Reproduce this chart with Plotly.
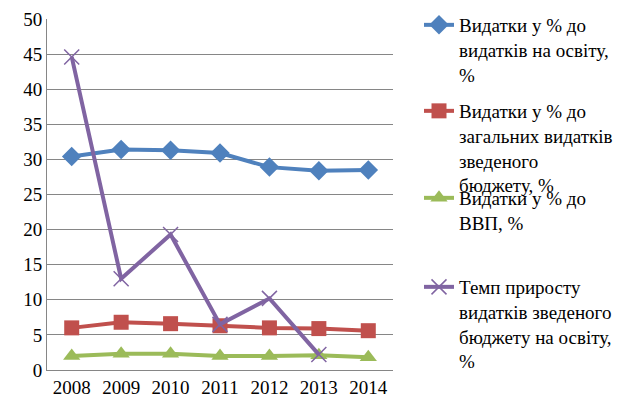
import plotly.graph_objects as go

years = ["2008", "2009", "2010", "2011", "2012", "2013", "2014"]
edu_share = [30.4, 31.4, 31.3, 30.9, 28.9, 28.4, 28.5]
budget_share = [6.0, 6.8, 6.6, 6.3, 6.0, 5.9, 5.6]
gdp_share = [2.0, 2.3, 2.3, 2.0, 2.0, 2.1, 1.8]
growth_rate = [44.6, 13.0, 19.3, 6.5, 10.2, 2.2, None]

names = [
    "Видатки у % до<br>видатків на освіту,<br>%",
    "Видатки у % до<br>загальних видатків<br>зведеного<br>бюджету, %",
    "Видатки у % до<br>ВВП, %",
    "Темп приросту<br>видатків зведеного<br>бюджету на освіту,<br>%",
]
colors = ["#4F81BD", "#C0504D", "#9BBB59", "#8064A2"]
symbols = ["diamond", "square", "triangle-up", "x-thin-open"]
sizes = [15, 15, 15, 15]
series = [edu_share, budget_share, gdp_share, growth_rate]
legend_ids = ["legend", "legend2", "legend3", "legend4"]
legend_tops = [6, 92, 179, 268]

FONT = "Times New Roman, DejaVu Serif"

fig = go.Figure()
for vals, nm, col, sym, sz, lg in zip(series, names, colors, symbols, sizes, legend_ids):
    marker = dict(symbol=sym, size=sz, color=col)
    if sym == "x-thin-open":
        marker["line"] = dict(color=col, width=1.5)
    fig.add_trace(go.Scatter(
        x=years, y=vals, name=nm, mode="lines+markers",
        line=dict(color=col, width=4), marker=marker,
        legend=lg, connectgaps=False, showlegend=True,
    ))

layout = dict(
    width=627, height=400, showlegend=True,
    margin=dict(l=47, r=234, t=19, b=30, autoexpand=False),
    plot_bgcolor="white", paper_bgcolor="white",
    font=dict(family=FONT, size=19, color="black"),
    xaxis=dict(type="category", range=[-0.5, 6.5], showgrid=False,
               showline=True, linecolor="#868686", linewidth=1,
               ticks="", tickfont=dict(family=FONT, size=19)),
    yaxis=dict(range=[0, 50], dtick=5, showgrid=True, gridcolor="#868686",
               gridwidth=1, showline=True, linecolor="#868686", linewidth=1,
               zeroline=False, ticks="", tickfont=dict(family=FONT, size=19)),
)
for lg, top in zip(legend_ids, legend_tops):
    layout[lg] = dict(
        xref="container", yref="container", visible=True,
        x=419 / 627, y=1 - top / 400, xanchor="left", yanchor="top",
        valign="top", bgcolor="rgba(0,0,0,0)",
        font=dict(family=FONT, size=19, color="black"),
        itemwidth=30, tracegroupgap=0,
    )
fig.update_layout(**layout)

post = """
document.body.style.margin='0';
var gd = document.getElementsByClassName('plotly-graph-div')[0];
function again(){ Plotly.relayout(gd, {'font.color': '#000000'}); }
if (document.fonts && document.fonts.load) {
  document.fonts.load('19px "Times New Roman"').then(again, again);
}
setTimeout(again, 100);
"""
fig.write_html("out.html", config={"displayModeBar": False}, post_script=post)
